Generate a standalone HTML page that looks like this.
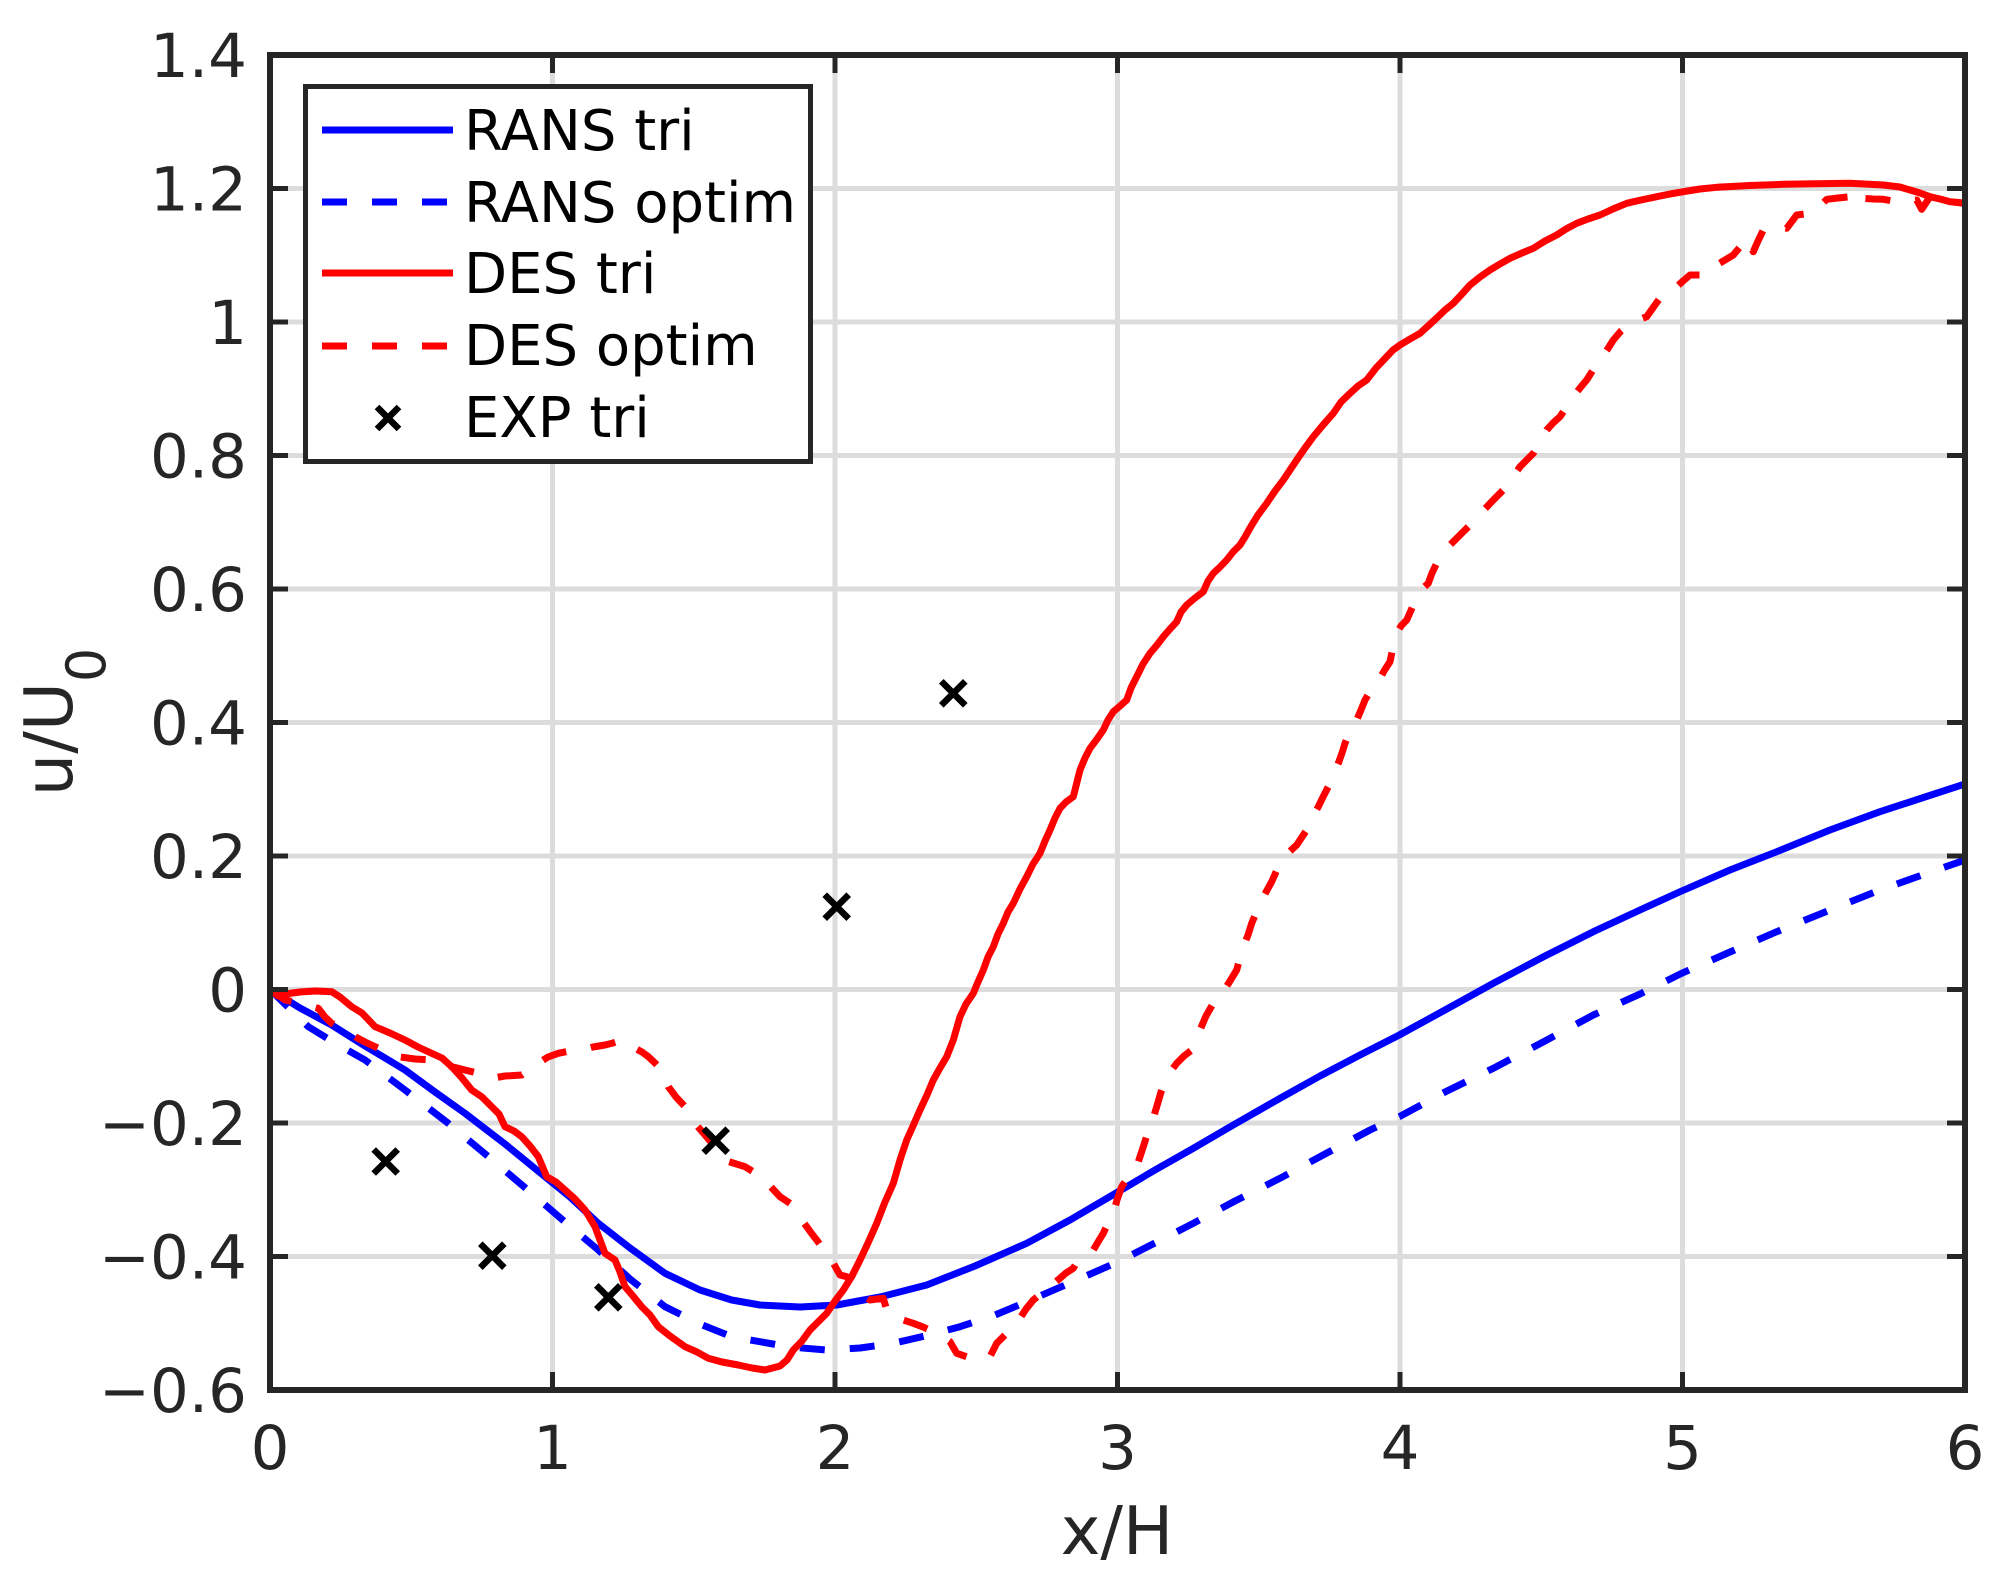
<!DOCTYPE html>
<html>
<head>
<meta charset="utf-8">
<style>
html,body{margin:0;padding:0;background:#fff;}
svg{display:block;}
text{font-family:"DejaVu Sans","Liberation Sans",sans-serif;}
</style>
</head>
<body>
<svg width="1995" height="1590" viewBox="0 0 1995 1590" xmlns="http://www.w3.org/2000/svg">
<rect x="0" y="0" width="1995" height="1590" fill="#ffffff"/>
<defs>
<clipPath id="pa"><rect x="270" y="55" width="1695" height="1335"/></clipPath>
</defs>

<!-- grid -->
<g stroke="#dcdcdc" stroke-width="5" fill="none">
<line x1="552.5" y1="55" x2="552.5" y2="1390"/>
<line x1="835" y1="55" x2="835" y2="1390"/>
<line x1="1117.5" y1="55" x2="1117.5" y2="1390"/>
<line x1="1400" y1="55" x2="1400" y2="1390"/>
<line x1="1682.5" y1="55" x2="1682.5" y2="1390"/>
<line x1="270" y1="1256.5" x2="1965" y2="1256.5"/>
<line x1="270" y1="1123" x2="1965" y2="1123"/>
<line x1="270" y1="989.5" x2="1965" y2="989.5"/>
<line x1="270" y1="856" x2="1965" y2="856"/>
<line x1="270" y1="722.5" x2="1965" y2="722.5"/>
<line x1="270" y1="589" x2="1965" y2="589"/>
<line x1="270" y1="455.5" x2="1965" y2="455.5"/>
<line x1="270" y1="322" x2="1965" y2="322"/>
<line x1="270" y1="188.5" x2="1965" y2="188.5"/>
</g>

<g clip-path="url(#pa)" fill="none" stroke-width="7" stroke-linejoin="round">
<!-- RANS tri -->
<polyline stroke="#0000ff" points="270,989.5 300,1008 331.7,1025 365,1046 405,1070 435,1092 465,1113.3 505,1144 545,1176.7 570,1197 598.3,1223.3 630,1248 665,1273.3 700,1290 731.7,1300 760,1305 800,1307 836.7,1305 880,1297 926.7,1285 975,1266 1026.7,1243.3 1070,1220 1118.3,1191.7 1155,1170 1193.3,1148.3 1235,1124 1280,1098.3 1320,1076 1360,1055 1399.3,1035 1445,1010 1493.3,983.3 1545,956 1593.3,931.7 1640,910 1681.7,891 1730,870 1776.7,851.7 1830,830 1880,811.7 1925,797 1965,784"/>
<!-- RANS optim -->
<polyline stroke="#0000ff" stroke-dasharray="25,25" points="270,989.5 290,1009 308.3,1026.7 335,1043 365,1060 405,1090 448.3,1123.3 490,1158 531.7,1193.3 565,1222 598.3,1250 630,1279 665,1306.7 700,1324 731.7,1336.7 760,1341.7 790,1347 826.7,1350 860,1348 893.3,1343.3 925,1336 960,1326.7 995,1315 1026.7,1301.7 1070,1283 1118.3,1261.7 1155,1243 1193.3,1223.3 1235,1201 1280,1178.3 1325,1154 1370,1130 1399.3,1116.7 1445,1092 1493.3,1068.3 1545,1041 1593.3,1015 1640,994 1681.7,973.3 1730,952 1776.7,931.7 1830,910 1880,890 1925,874 1965,860"/>
<!-- DES tri -->
<polyline stroke="#ff0000" points="270,989.5 278,996 285,994 300,992 315,991 331.7,991.7 340,997 351.7,1006.7 362,1013 375,1026.7 390,1033 405,1040 418,1047 431.7,1053.3 442,1058 451.7,1066.7 462,1078 471.7,1090 482,1097 491.7,1106.7 499,1114 505,1126.7 514,1131 521.7,1136.7 530,1146 538.3,1156.7 546.7,1176.7 556,1182 565,1190 575,1199 585,1210 595,1226.7 600,1240 605,1253.3 615,1260 620,1272 625,1286.7 633,1296 641.7,1306.7 650,1315 658.3,1326.7 670,1336 685,1346.7 697,1352 708.3,1358.3 722,1362 738.3,1365 752,1368 765,1370 780,1366 787,1360 793.3,1350 802,1341 810,1330 818,1322 826.7,1313.3 835,1301 843.3,1290 852,1276 860,1260 868,1243 876.7,1223.3 885,1202 893.3,1183.3 900,1160 906.7,1140 913,1126 920,1110 927,1095 933.3,1080 940,1068 946.7,1056.7 953.3,1040 960,1016.7 966,1004 973.3,993.3 978,982 983.3,970 988,957 993.3,946.7 998,934 1003.3,923.3 1008,912 1013.3,903.3 1020,889 1026.7,876.7 1033,864 1040,853.3 1045,841 1050,830 1055,818 1060,808.3 1066,802 1073.3,796.7 1077,782 1080,770 1085,758 1090,748.3 1097,739 1103.3,730 1108,720 1113.3,711.7 1120,706 1126.7,700 1131,688 1136.7,676.7 1143,664 1150,653.3 1157,645 1163.3,636.7 1170,629 1176.7,621.7 1181,612 1186.7,605 1195,598 1203.3,591.7 1208,581 1213.3,573.3 1220,567 1226.7,560 1233,552 1240,545 1245,537 1250,528 1258,515 1266.7,503.3 1275,491 1283.3,480 1290,470 1296.7,460 1305,448 1313.3,436.7 1323,425 1333.3,413.3 1341,402 1350,393.3 1358,386 1366.7,380 1376,368 1386.7,356.7 1393,350 1400,345 1410,339 1420,333.3 1428,326 1436.7,318 1445,310 1453.3,303.3 1462,294 1470,285 1480,277 1490,270 1500,264 1510,258.3 1522,253 1533.3,248.3 1545,241 1556.7,235 1566,229 1576.7,223.3 1588,219 1600,215 1613,209 1626.7,203.3 1641,200 1656.7,196.7 1670,194 1683.3,191.7 1700,189 1716.7,187.3 1750,185.5 1783.3,184.3 1815,183.7 1850,183.3 1883.3,185 1900,187 1910,190 1920,193 1930,196.7 1940,199 1950,201.7 1965,203.3"/>
<!-- DES optim -->
<polyline stroke="#ff0000" stroke-dasharray="25,25" points="270,989.5 285,1000 300,1003 318.3,1008.3 325,1017 331.7,1023.3 343,1030 355,1036.7 365,1042 375,1046.7 387,1052 398.3,1056.7 415,1059 431.7,1060 442,1063 451.7,1066.7 465,1070 478.3,1073.3 491.7,1078.3 505,1076 521.7,1075 530,1069 538.3,1063.3 548,1057 558.3,1053.3 570,1051 581.7,1050 593,1047 605,1045 613,1043 621.7,1040 628,1044 635,1048.3 642,1052 648.3,1056.7 655,1063 661.7,1070 665,1079 668.3,1086.7 676,1097 685,1106.7 690,1115 695,1123.3 705,1135 715,1146.7 718.3,1158.3 730,1162 745,1166.7 752,1171 761.7,1176.7 770,1186 780,1196.7 790,1203.3 798,1215 806.7,1226.7 812,1234 816.7,1240 824,1250 831.7,1260 836,1268 840,1275 846.7,1276.7 853,1285 860,1293.3 870,1300 877,1299 883.3,1298.3 888.3,1315 900,1319 913.3,1323.3 923,1327 933.3,1331.7 942,1336 950,1341.7 956.7,1353.3 966.7,1356.7 978,1357 990,1356.7 996.7,1343.3 1005,1335 1012,1327 1020,1318.3 1026,1309 1033.3,1300 1042,1293 1050,1286.7 1060,1278.3 1066,1273 1073.3,1268.3 1080,1256.7 1093.3,1250 1098,1242 1103.3,1233.3 1108,1223 1113.3,1213.3 1117,1200 1121.7,1186.7 1129,1176 1136.7,1166.7 1143.3,1146.7 1147,1135 1151.7,1123.3 1156.7,1106.7 1161,1092 1166.7,1076.7 1176.7,1063.3 1184,1056 1191.7,1050 1196,1040 1200,1030 1206,1016 1213.3,1003.3 1223.3,991.7 1230,981 1236.7,970 1240,958 1243.3,946.7 1248,935 1251.7,923.3 1256,913 1260,903.3 1266,892 1271.7,881.7 1276,872 1280,863.3 1288,853 1296.7,845 1302,837 1306.7,830 1312,818 1318.3,806.7 1323,797 1328.3,786.7 1333,775 1338.3,763.3 1342,753 1345,743.3 1350,731 1356.7,720 1361,710 1365,700 1371,690 1378.3,681.7 1384,671 1390,661.7 1393,647 1396.7,633.3 1401,626 1406.7,620 1412,608 1416.7,596.7 1422,589 1428.3,583.3 1432,573 1436.7,563.3 1443,554 1450,545 1460,535 1470,525 1482,512 1493.3,500 1503.3,490 1512,478 1520,466.7 1533.3,453.3 1540,442 1546.7,430 1553,423 1560,416.7 1567,406 1573.3,396.7 1580,388 1586.7,380 1593,370 1600,360 1607,350 1613.3,340 1621,331 1630,323.3 1638,320 1646.7,316.7 1655,305 1663.3,293.3 1670,290 1676.7,286.7 1683,281 1690,275 1698,275 1706.7,275 1716.7,265 1725,260 1733.3,255 1740,247 1746.7,238.3 1753.3,251.7 1758,241 1763.3,230 1770,225 1778,227 1786.7,228.3 1796.7,215 1805,214 1813.3,213.3 1820,206 1826.7,199.3 1838,198 1850,196.7 1855,205 1863.3,198.3 1873,199 1883.3,199.3 1896.7,201.7 1906,201 1916.7,200 1921.7,209.3 1930,196.7 1940,199 1950,201.7 1965,203.3"/>
</g>

<!-- EXP markers -->
<g stroke="#000000" stroke-width="6.5" fill="none">
<path d="M373.7,1149.5 L397.7,1173.5 M397.7,1149.5 L373.7,1173.5"/>
<path d="M480.3,1243.7 L504.3,1267.7 M504.3,1243.7 L480.3,1267.7"/>
<path d="M596.3,1285.3 L620.3,1309.3 M620.3,1285.3 L596.3,1309.3"/>
<path d="M703.7,1128.7 L727.7,1152.7 M727.7,1128.7 L703.7,1152.7"/>
<path d="M824.7,894.7 L848.7,918.7 M848.7,894.7 L824.7,918.7"/>
<path d="M941.3,681.3 L965.3,705.3 M965.3,681.3 L941.3,705.3"/>
</g>

<!-- axes box -->
<rect x="270" y="55" width="1695" height="1335" fill="none" stroke="#262626" stroke-width="6"/>
<!-- ticks -->
<g stroke="#262626" stroke-width="5">
<line x1="552.5" y1="1390" x2="552.5" y2="1372"/><line x1="552.5" y1="55" x2="552.5" y2="73"/>
<line x1="835" y1="1390" x2="835" y2="1372"/><line x1="835" y1="55" x2="835" y2="73"/>
<line x1="1117.5" y1="1390" x2="1117.5" y2="1372"/><line x1="1117.5" y1="55" x2="1117.5" y2="73"/>
<line x1="1400" y1="1390" x2="1400" y2="1372"/><line x1="1400" y1="55" x2="1400" y2="73"/>
<line x1="1682.5" y1="1390" x2="1682.5" y2="1372"/><line x1="1682.5" y1="55" x2="1682.5" y2="73"/>
<line x1="270" y1="1256.5" x2="288" y2="1256.5"/><line x1="1965" y1="1256.5" x2="1947" y2="1256.5"/>
<line x1="270" y1="1123" x2="288" y2="1123"/><line x1="1965" y1="1123" x2="1947" y2="1123"/>
<line x1="270" y1="989.5" x2="288" y2="989.5"/><line x1="1965" y1="989.5" x2="1947" y2="989.5"/>
<line x1="270" y1="856" x2="288" y2="856"/><line x1="1965" y1="856" x2="1947" y2="856"/>
<line x1="270" y1="722.5" x2="288" y2="722.5"/><line x1="1965" y1="722.5" x2="1947" y2="722.5"/>
<line x1="270" y1="589" x2="288" y2="589"/><line x1="1965" y1="589" x2="1947" y2="589"/>
<line x1="270" y1="455.5" x2="288" y2="455.5"/><line x1="1965" y1="455.5" x2="1947" y2="455.5"/>
<line x1="270" y1="322" x2="288" y2="322"/><line x1="1965" y1="322" x2="1947" y2="322"/>
<line x1="270" y1="188.5" x2="288" y2="188.5"/><line x1="1965" y1="188.5" x2="1947" y2="188.5"/>
</g>

<!-- tick labels -->
<g fill="#262626" font-size="61">
<g text-anchor="end">
<text x="247" y="1412">−0.6</text>
<text x="247" y="1278.5">−0.4</text>
<text x="247" y="1145">−0.2</text>
<text x="247" y="1011.5">0</text>
<text x="247" y="878">0.2</text>
<text x="247" y="744.5">0.4</text>
<text x="247" y="611">0.6</text>
<text x="247" y="477.5">0.8</text>
<text x="247" y="344">1</text>
<text x="247" y="210.5">1.2</text>
<text x="247" y="77">1.4</text>
</g>
<g text-anchor="middle">
<text x="270" y="1469">0</text>
<text x="552.5" y="1469">1</text>
<text x="835" y="1469">2</text>
<text x="1117.5" y="1469">3</text>
<text x="1400" y="1469">4</text>
<text x="1682.5" y="1469">5</text>
<text x="1965" y="1469">6</text>
</g>
</g>

<!-- axis labels -->
<text x="1117" y="1554" font-size="67" fill="#262626" text-anchor="middle">x/H</text>
<text transform="translate(72,722) rotate(-90)" font-size="67" fill="#262626" text-anchor="middle">u/U<tspan font-size="54" dy="33">0</tspan></text>

<!-- legend -->
<rect x="305.5" y="86.5" width="505" height="375" fill="#ffffff" stroke="#262626" stroke-width="5"/>
<g fill="none" stroke-width="7">
<line x1="322" y1="130" x2="453" y2="130" stroke="#0000ff"/>
<line x1="322" y1="202" x2="453" y2="202" stroke="#0000ff" stroke-dasharray="25,25"/>
<line x1="322" y1="273" x2="453" y2="273" stroke="#ff0000"/>
<line x1="322" y1="346" x2="453" y2="346" stroke="#ff0000" stroke-dasharray="25,25"/>
</g>
<path d="M377,407 L399,429 M399,407 L377,429" stroke="#000000" stroke-width="6.5" fill="none"/>
<g fill="#000000" font-size="56">
<text x="464" y="150">RANS tri</text>
<text x="464" y="222">RANS optim</text>
<text x="464" y="293">DES tri</text>
<text x="464" y="365">DES optim</text>
<text x="464" y="437">EXP tri</text>
</g>
</svg>
</body>
</html>
